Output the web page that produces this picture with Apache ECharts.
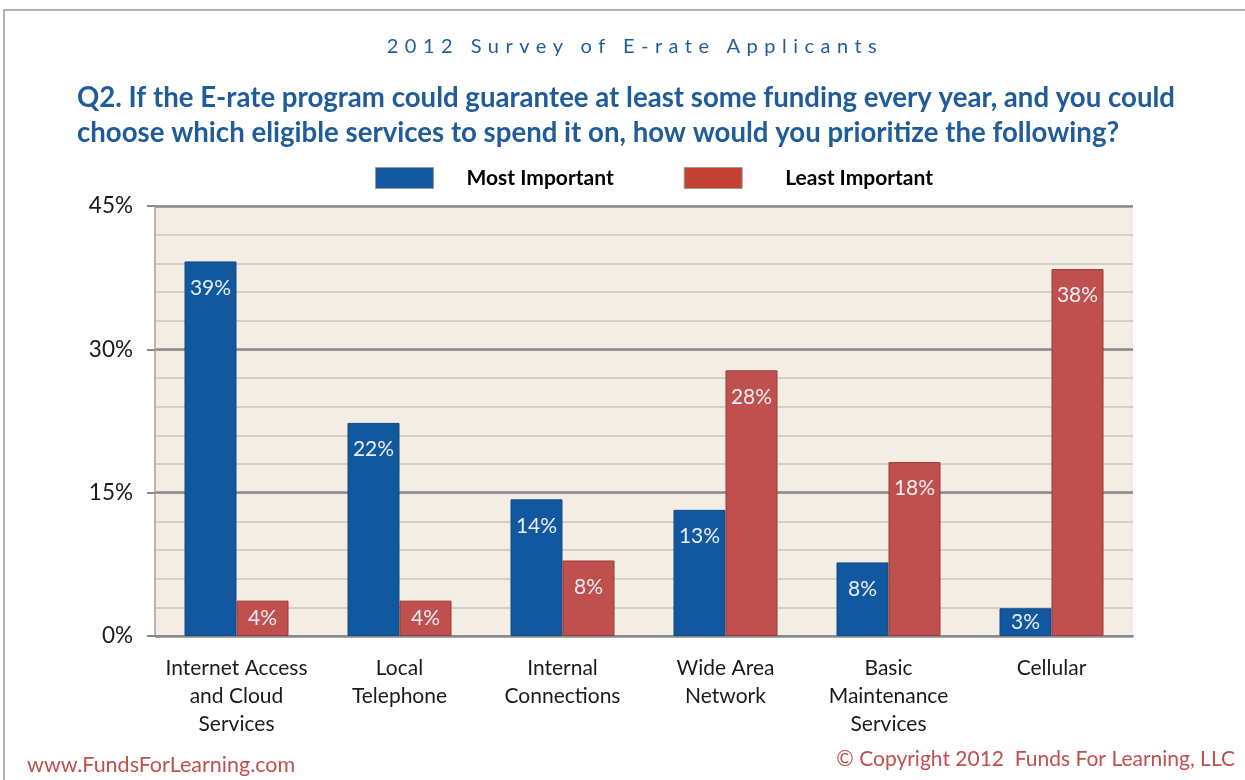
<!DOCTYPE html>
<html>
<head>
<meta charset="utf-8">
<script src="https://cdn.jsdelivr.net/npm/echarts@6/dist/echarts.min.js"></script>
<style>
html,body{margin:0;padding:0;background:#fff;}
#wrap{position:relative;width:1245px;height:780px;}
#chart{position:absolute;left:0;top:0;width:1245px;height:780px;}
#sub{position:absolute;left:0;width:1270px;top:33px;text-align:center;font-family:Lato,sans-serif;font-size:20px;letter-spacing:6.5px;color:#1F5C99;}
</style>
</head>
<body>
<div id="wrap">
<div id="chart"></div>
<div id="sub">2012 Survey of E-rate Applicants</div>
</div>
<script>
const categories = ["Internet Access\nand Cloud\nServices", "Local\nTelephone", "Internal\nConnections", "Wide Area\nNetwork", "Basic\nMaintenance\nServices", "Cellular"];
const mostImportant = [39.2, 22.3, 14.3, 13.2, 7.7, 2.9];
const leastImportant = [3.7, 3.7, 7.9, 27.8, 18.2, 38.4];
const seriesNames = ["Most Important", "Least Important"];
const yTicks = [0, 15, 30, 45];

const FONT = 'Lato, sans-serif';
const chart = echarts.init(document.getElementById('chart'));
const labelCfg = {
  show: true, position: 'insideTop', distance: 16,
  color: '#e9edf5', fontFamily: FONT, fontSize: 21,
  formatter: p => Math.round(p.value) + '%'
};
const toItems = arr => arr.map(v => v < 5 ? {value: v, label: {position: 'inside'}} : v);
chart.setOption({
  animation: false,
  backgroundColor: '#fff',
  textStyle: {fontFamily: FONT},
  title: {
    text: 'Q2. If the E-rate program could guarantee at least some funding every year, and you could\nchoose which eligible services to spend it on, how would you prioritize the following?',
    left: 72, top: 76,
    textStyle: {color: '#1F5C99', fontFamily: FONT, fontWeight: 'bold', fontSize: 27.6, lineHeight: 35}
  },
  legend: {
    left: 375, top: 167, padding: 0, itemWidth: 58, itemHeight: 21, itemGap: 70,
    icon: 'rect',
    textStyle: {color: '#000', fontFamily: FONT, fontWeight: 'bold', fontSize: 21, padding: [0, 0, 0, 28]},
    data: [
      {name: seriesNames[0], itemStyle: {color: '#1259A0', borderColor: '#9a9a9a', borderWidth: 1}},
      {name: seriesNames[1], itemStyle: {color: '#C24232', borderColor: '#9a9a9a', borderWidth: 1}, textStyle: {padding: [0, 0, 0, 38]}}
    ]
  },
  grid: {left: 155, right: 112, top: 206, bottom: 144, show: true, backgroundColor: '#F4EDE3', borderWidth: 0},
  xAxis: {
    type: 'category', data: categories,
    axisLine: {show: true, lineStyle: {color: '#8a8a8a', width: 2}},
    axisTick: {show: false},
    axisLabel: {color: '#1a1a1a', fontFamily: FONT, fontSize: 21, lineHeight: 28, margin: 18, interval: 0}
  },
  yAxis: [
    {
      type: 'value', min: 0, max: 45, interval: 3,
      axisLine: {show: false}, axisTick: {show: false}, axisLabel: {show: false},
      splitLine: {show: true, lineStyle: {color: '#c9c5bd', width: 1.5}}
    },
    {
      type: 'value', min: 0, max: 45, interval: 15, position: 'left',
      axisLine: {show: true, lineStyle: {color: '#a0a0a0', width: 1.5}},
      axisTick: {show: true, length: 8, lineStyle: {color: '#8a8a8a', width: 2}},
      axisLabel: {color: '#1a1a1a', fontFamily: FONT, fontSize: 22.5, margin: 22, formatter: v => yTicks.includes(v) ? v + '%' : ''},
      splitLine: {show: true, lineStyle: {color: '#8a8a8a', width: 2.5}}
    }
  ],
  series: [
    {
      name: seriesNames[0], type: 'bar', data: toItems(mostImportant), barWidth: 52, barGap: '0%',
      itemStyle: {color: '#12589E', borderColor: '#0e4a86', borderWidth: 1},
      label: labelCfg
    },
    {
      name: seriesNames[1], type: 'bar', data: toItems(leastImportant), barWidth: 52, barGap: '0%',
      itemStyle: {color: '#C0504D', borderColor: '#963a37', borderWidth: 1},
      label: labelCfg
    }
  ],
  graphic: [
    {type: 'rect', shape: {x: 4, y: 10, width: 1260, height: 800}, style: {fill: 'none', stroke: '#9a9a9a', lineWidth: 1.5}, silent: true, z: -1},
    {type: 'text', left: 27, top: 754, style: {text: 'www.FundsForLearning.com', fill: '#C0504D', font: '21.5px ' + FONT}},
    {type: 'text', right: 10, top: 749, style: {text: '© Copyright 2012  Funds For Learning, LLC', fill: '#C0504D', font: '21px ' + FONT}}
  ]
});
</script>
</body>
</html>
